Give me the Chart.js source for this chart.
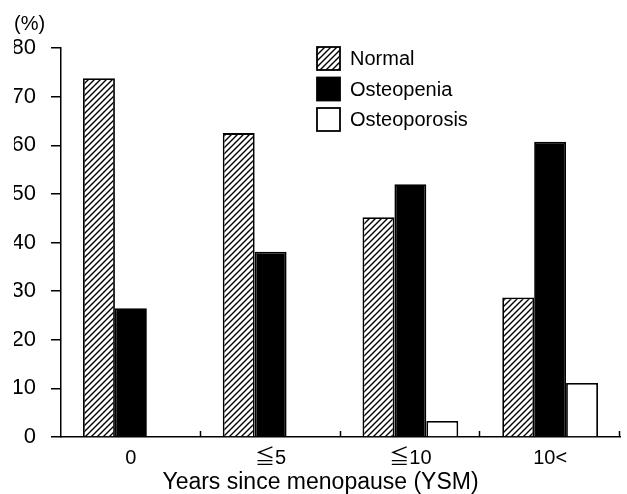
<!DOCTYPE html>
<html>
<head>
<meta charset="utf-8">
<script src="https://cdn.jsdelivr.net/npm/chart.js@4"></script>
<style>
  html, body { margin: 0; padding: 0; background: #fff; }
  #wrap { width: 627px; height: 494px; }
</style>
</head>
<body>
<div id="wrap"><canvas id="yearsChart"></canvas></div>
<script>
const categories = ['0', '≦5', '≦10', '10<'];
const normalValues = [73.8, 62.5, 45.2, 28.7];
const osteopeniaValues = [26.5, 38.1, 52.0, 60.7];
const osteoporosisValues = [0, 0, 3.3, 11.1];
const yTicks = [0, 10, 20, 30, 40, 50, 60, 70, 80];
const xTitle = 'Years since menopause (YSM)';

const fontFamily = '"Liberation Sans", Arial, "Noto Sans CJK JP", sans-serif';

// diagonal hatch for the "Normal" bars
function makeHatch() {
  const size = 6;
  const c = document.createElement('canvas');
  c.width = size;
  c.height = size;
  const g = c.getContext('2d');
  g.fillStyle = '#fff';
  g.fillRect(0, 0, size, size);
  g.strokeStyle = '#000';
  g.lineWidth = 1.4;
  g.beginPath();
  g.moveTo(0, size); g.lineTo(size, 0);
  g.moveTo(-1, 1); g.lineTo(1, -1);
  g.moveTo(size - 1, size + 1); g.lineTo(size + 1, size - 1);
  g.stroke();
  return g.createPattern(c, 'repeat');
}
const hatch = makeHatch();

// small upward ticks between the categories, plus the axis title
const xAxisExtras = {
  id: 'xAxisExtras',
  afterDraw(chart) {
    const x = chart.scales.x;
    const ctx = chart.ctx;
    const n = categories.length;
    const step = x.width / n;
    ctx.save();
    ctx.strokeStyle = '#000';
    ctx.lineWidth = 1.5;
    ctx.beginPath();
    for (let i = 1; i <= n; i++) {
      const px = Math.round(x.left + i * step) - 0.5;
      ctx.moveTo(px, x.top);
      ctx.lineTo(px, x.top - 6);
    }
    ctx.stroke();
    // title sits a little left of centre in the original
    ctx.fillStyle = '#000';
    ctx.font = '23px ' + fontFamily;
    ctx.textAlign = 'center';
    ctx.textBaseline = 'middle';
    ctx.fillText(xTitle, (x.left + x.right) / 2 - 20, x.bottom - 11);
    ctx.restore();
  }
};

// legend boxes drawn inside the plot area
const boxLegend = {
  id: 'boxLegend',
  afterDraw(chart) {
    const ctx = chart.ctx;
    const area = chart.chartArea;
    const x0 = area.left + 256;
    let y0 = area.top - 1;
    ctx.save();
    ctx.font = '20px ' + fontFamily;
    ctx.textBaseline = 'middle';
    chart.data.datasets.forEach(ds => {
      ctx.fillStyle = ds.backgroundColor;
      ctx.fillRect(x0, y0, 23, 23);
      ctx.strokeStyle = '#000';
      ctx.lineWidth = 1.8;
      ctx.strokeRect(x0, y0, 23, 23);
      ctx.fillStyle = '#000';
      ctx.fillText(ds.label, x0 + 33, y0 + 12.5);
      y0 += 30.5;
    });
    ctx.restore();
  }
};

new Chart(document.getElementById('yearsChart'), {
  type: 'bar',
  data: {
    labels: categories,
    datasets: [
      { label: 'Normal', data: normalValues, backgroundColor: hatch, borderColor: '#000', borderWidth: 1.8 },
      { label: 'Osteopenia', data: osteopeniaValues, backgroundColor: '#000', borderColor: '#000', borderWidth: 1.8 },
      { label: 'Osteoporosis', data: osteoporosisValues, backgroundColor: '#fff', borderColor: '#000', borderWidth: 1.8 }
    ]
  },
  options: {
    responsive: true,
    maintainAspectRatio: false,
    animation: false,
    devicePixelRatio: 1,
    layout: {
      padding: { left: 14, right: 7, top: 0, bottom: 0 }
    },
    datasets: {
      bar: { barPercentage: 1, categoryPercentage: 0.685 }
    },
    scales: {
      x: {
        afterFit(scale) { scale.height = 57; },
        grid: { display: false, drawTicks: false },
        border: { display: true, color: '#000', width: 1.5 },
        ticks: { color: '#000', padding: 9, font: { family: fontFamily, size: 20 } }
      },
      y: {
        min: 0,
        max: 80,
        afterBuildTicks(scale) {
          scale.ticks = yTicks.map(v => ({ value: v }));
        },
        afterFit(scale) { scale.width = 47; },
        grid: { drawOnChartArea: false, drawTicks: true, tickLength: 10, color: '#000', lineWidth: 1.5 },
        border: { display: true, color: '#000', width: 1.5 },
        ticks: { color: '#000', padding: 15, font: { family: fontFamily, size: 22 } }
      }
    },
    plugins: {
      legend: { display: false },
      tooltip: { enabled: false },
      title: {
        display: true,
        text: '(%)',
        align: 'start',
        color: '#000',
        font: { family: fontFamily, size: 20, weight: 'normal' },
        padding: { top: 12, bottom: 12 }
      }
    }
  },
  plugins: [xAxisExtras, boxLegend]
});
</script>
</body>
</html>
